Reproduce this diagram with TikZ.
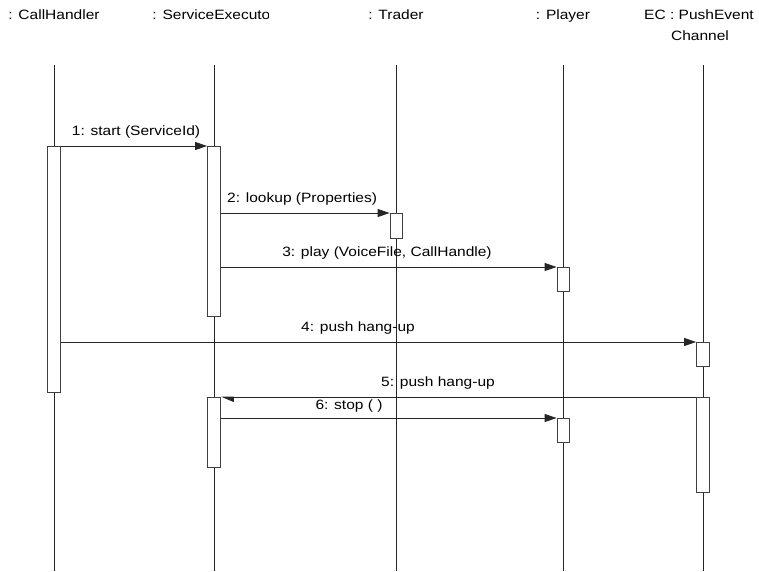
\documentclass[tikz,border=0pt]{standalone}
\usepackage{fontspec}
\setmainfont{Liberation Sans}[FakeStretch=1.15]
\usetikzlibrary{arrows.meta}
\begin{document}
\begin{tikzpicture}[x=1pt,y=-1pt,
  lbl/.style={font=\fontsize{13.5}{21}\selectfont, inner sep=0pt, anchor=base},
  life/.style={draw=black!85, line width=0.8pt},
  act/.style={draw=black!75, fill=white, line width=0.8pt, minimum width=13pt, inner sep=0pt, anchor=north},
  msg/.style={draw=black!85, line width=0.8pt, -{Triangle[length=12pt,width=8pt]}},
  amsg/.style={draw=black!85, line width=0.8pt, -{Triangle[length=12pt,width=10pt,left]}}]
\useasboundingbox (0,0) rectangle (759,571);
% headers
\node[lbl] (hch) at (54,19) {: CallHandler};
\begin{scope}
  \clip (140,0) rectangle (268,40);
  \node[lbl] (hse) at (214,19) {: ServiceExecutor};
\end{scope}
\node[lbl] (htr) at (396,19) {: Trader};
\node[lbl] (hpl) at (563,19) {: Player};
\node[lbl] (hec) at (699,19) {EC : PushEvent};
\node[lbl] (hec2) at (700,40) {Channel};
% lifelines
\coordinate (tch) at (54,65);  \coordinate (bch) at (54,571);
\coordinate (tse) at (214,65); \coordinate (bse) at (214,571);
\coordinate (ttr) at (396,65); \coordinate (btr) at (396,571);
\coordinate (tpl) at (563,65); \coordinate (bpl) at (563,571);
\coordinate (tec) at (703,65); \coordinate (bec) at (703,571);
\draw[life] (tch) -- (bch);
\draw[life] (tse) -- (bse);
\draw[life] (ttr) -- (btr);
\draw[life] (tpl) -- (bpl);
\draw[life] (tec) -- (bec);
% activations
\node[act, minimum height=246pt] (ch1) at (54,146) {};
\node[act, minimum height=170pt] (se1) at (214,146) {};
\node[act, minimum height=25pt, minimum width=12pt] (tr1) at (396,213) {};
\node[act, minimum height=24pt, minimum width=12pt] (pl1) at (563,267) {};
\node[act, minimum height=24pt] (ec1) at (703,342) {};
\node[act, minimum height=70pt] (se2) at (214,397) {};
\node[act, minimum height=95pt] (ec2) at (703,397) {};
\node[act, minimum height=24pt, minimum width=12pt] (pl2) at (563,418) {};
% messages
\draw[msg] (ch1.north east) -- (se1.north west);
\node[lbl] (l1) at (136,135) {1: start (ServiceId)};
\draw[msg] (se1.east |- tr1.north) -- (tr1.north west);
\node[lbl, anchor=base west] (l2) at (227,202) {2: lookup (Properties)};
\draw[msg] (se1.east |- pl1.north) -- (pl1.north west);
\node[lbl] (l3) at (387,256) {3: play (VoiceFile, CallHandle)};
\draw[msg] (ch1.east |- ec1.north) -- (ec1.north west);
\node[lbl] (l4) at (358,331) {4: push hang-up};
\draw[amsg] (ec2.north west) -- (se2.north east);
\node[lbl] (l5) at (438,386) {5: push hang-up};
\draw[msg] (se2.east |- pl2.north) -- (pl2.north west);
\node[lbl] (l6) at (349,409) {6: stop ( )};
\end{tikzpicture}
\end{document}
